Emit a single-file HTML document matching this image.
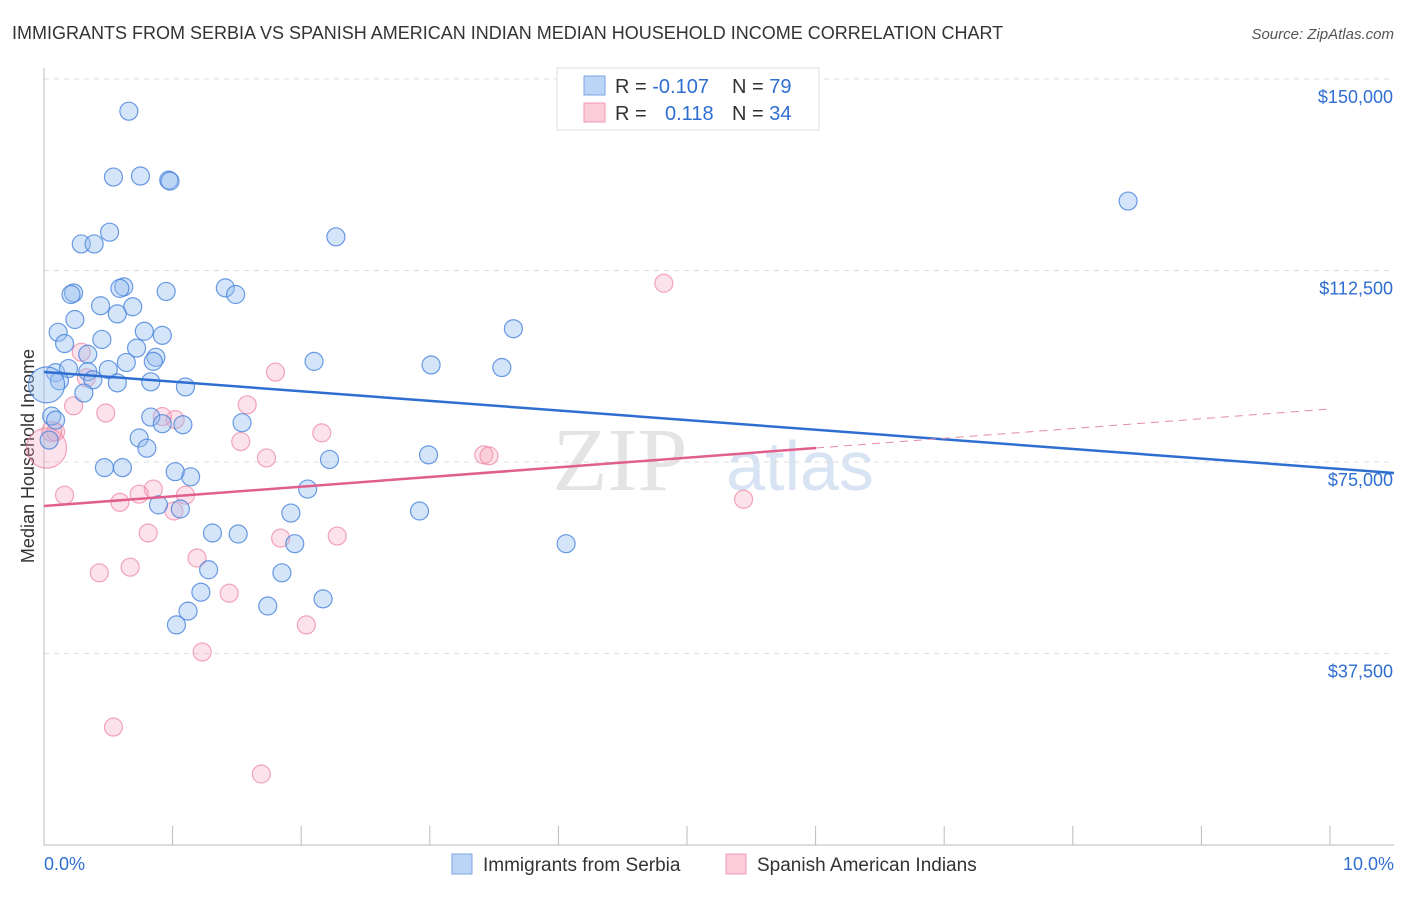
<!DOCTYPE html>
<html><head><meta charset="utf-8"><style>
body{margin:0;background:#fff;font-family:"Liberation Sans",sans-serif}
</style></head><body>
<svg id="c" width="1406" height="892" xmlns="http://www.w3.org/2000/svg" style="font-family:'Liberation Sans',sans-serif">
<text x="12" y="39" font-size="18" fill="#333">IMMIGRANTS FROM SERBIA VS SPANISH AMERICAN INDIAN MEDIAN HOUSEHOLD INCOME CORRELATION CHART</text>
<text x="1394" y="39" font-size="15" fill="#555" font-style="italic" text-anchor="end">Source: ZipAtlas.com</text>
<text x="34" y="456" font-size="18" fill="#333" text-anchor="middle" transform="rotate(-90 34 456)">Median Household Income</text>
<text x="620" y="490" font-size="90" fill="#e4e4e4" font-family="Liberation Serif" text-anchor="middle">ZIP</text>
<text x="800" y="490" font-size="70" fill="#d8e4f4" text-anchor="middle">atlas</text>
<g id="grid"></g><g id="pts"></g><g id="lines"></g>
<g>
<rect x="557" y="68" width="262" height="62" fill="#fff" stroke="#ddd"/>
<rect x="584" y="76" width="21" height="19" fill="#bcd4f5" stroke="#7ba6e6"/>
<rect x="584" y="103" width="21" height="19" fill="#fbccd9" stroke="#f09ab3"/>
<text x="615" y="93" font-size="20" fill="#333">R = <tspan fill="#2f6ed1">-0.107</tspan></text>
<text x="732" y="93" font-size="20" fill="#333">N = <tspan fill="#2f6ed1">79</tspan></text>
<text x="615" y="120" font-size="20" fill="#333">R = </text>
<text x="665" y="120" font-size="20" fill="#2f6ed1">0.118</text>
<text x="732" y="120" font-size="20" fill="#333">N = <tspan fill="#2f6ed1">34</tspan></text>
</g>
<g>
<rect x="452" y="854" width="20" height="20" fill="#bcd4f5" stroke="#7ba6e6"/>
<text x="483" y="871" font-size="19" fill="#333">Immigrants from Serbia</text>
<rect x="726" y="854" width="20" height="20" fill="#fbccd9" stroke="#f09ab3"/>
<text x="757" y="871" font-size="19" fill="#333">Spanish American Indians</text>
</g>
<text x="44" y="870" font-size="18" fill="#2f6ed1">0.0%</text>
<text x="1394" y="870" font-size="18" fill="#2f6ed1" text-anchor="end">10.0%</text>
</svg>
<script>
const yTicks=[37500,75000,112500,150000];
const yTickLabels=["$37,500","$75,000","$112,500","$150,000"];
const xTicks=[0,1,2,3,4,5,6,7,8,9,10];
const serbiaX=[0.66,0.54,0.75,0.97,0.98,0.51,0.29,0.39,2.27,8.43,1.41,0.62,0.23,0.59,0.95,1.49,0.21,0.44,0.69,0.57,0.24,0.11,0.78,0.92,3.65,0.16,0.45,0.72,0.34,0.87,0.85,0.64,2.10,3.01,3.56,0.09,0.19,0.50,0.34,0.12,0.38,0.57,0.83,1.10,0.31,0.83,0.06,1.54,0.92,1.08,0.09,0.04,0.74,0.80,2.22,2.99,1.14,0.47,0.61,1.02,2.05,0.89,1.06,1.92,2.92,1.31,1.51,1.95,4.06,1.28,1.85,1.22,1.12,1.74,2.17,1.03,0.02];
const serbiaY=[143.7,130.8,131.0,130.2,130.0,120.0,117.7,117.7,119.1,126.1,109.1,109.3,108.1,109.0,108.4,107.8,107.8,105.6,105.4,104.0,102.9,100.4,100.6,99.8,101.1,98.2,99.0,97.3,96.1,95.5,94.7,94.5,94.7,94.0,93.5,92.5,93.3,93.1,92.7,90.9,91.1,90.5,90.7,89.7,88.5,83.8,84.0,82.7,82.5,82.3,83.2,79.3,79.7,77.7,75.5,76.4,72.1,73.9,73.9,73.1,69.7,66.6,65.8,65.0,65.4,61.1,60.9,59.0,59.0,53.9,53.3,49.5,45.8,46.8,48.2,43.1,90.1];
const serbiaR=[9,9,9,9,9,9,9,9,9,9,9,9,9,9,9,9,9,9,9,9,9,9,9,9,9,9,9,9,9,9,9,9,9,9,9,9,9,9,9,9,9,9,9,9,9,9,9,9,9,9,9,9,9,9,9,9,9,9,9,9,9,9,9,9,9,9,9,9,9,9,9,9,9,9,9,9,18];
const spanX=[4.82,0.29,1.80,0.33,1.58,0.48,0.23,1.02,0.92,0.09,2.16,1.53,1.73,3.42,3.46,0.85,0.74,0.16,1.10,0.59,1.01,5.44,0.81,1.84,2.28,1.19,0.67,0.43,1.44,2.04,1.23,0.54,1.69,0.02,0.06];
const spanY=[110.0,96.5,92.6,91.5,86.2,84.6,86.0,83.3,83.9,80.9,80.7,79.0,75.8,76.4,76.2,69.7,68.7,68.5,68.5,67.1,65.4,67.7,61.1,60.1,60.5,56.2,54.4,53.3,49.3,43.1,37.8,23.1,13.9,77.7,81.0];
const spanR=[9,9,9,9,9,9,9,9,9,9,9,9,9,9,9,9,9,9,9,9,9,9,9,9,9,9,9,9,9,9,9,9,9,20,10];
const xs=v=>44+v*128.6, ys=v=>845-v/37500*191.5*1000/1000;
const yv=k=>845-k*1000/37500*191.5;
const NS="http://www.w3.org/2000/svg";
function mk(t,a,p){const e=document.createElementNS(NS,t);for(const k in a)e.setAttribute(k,a[k]);p.appendChild(e);return e;}
const g=document.getElementById('grid');
yTicks.forEach((t,i)=>{const y=845-t/37500*191.5;
const l=mk('line',{x1:44,x2:1394,y1:y,y2:y,stroke:'#ddd','stroke-dasharray':'5,5'},g);


const tx=mk('text',{x:1393,y:y+24,'font-size':18,fill:'#2f6ed1','text-anchor':'end'},g);tx.textContent=yTickLabels[i];

});
const ax=mk('line',{x1:44,x2:44,y1:68,y2:845,stroke:'#bbb'},g);


const bx=mk('line',{x1:44,x2:1394,y1:845,y2:845,stroke:'#bbb'},g);


xTicks.forEach(t=>{const l=mk('line',{x1:xs(t),x2:xs(t),y1:826,y2:845,stroke:'#bbb'},g);

});
const p=document.getElementById('pts');
spanX.forEach((x,i)=>{const c=mk('circle',{cx:xs(x),cy:yv(spanY[i]),r:spanR[i],fill:'rgba(246,160,185,0.3)',stroke:'rgba(236,130,160,0.7)','stroke-width':1.2},p);

});
serbiaX.forEach((x,i)=>{const c=mk('circle',{cx:xs(x),cy:yv(serbiaY[i]),r:serbiaR[i],fill:'rgba(150,190,240,0.4)',stroke:'rgba(70,130,220,0.8)','stroke-width':1.2},p);

});
const L=document.getElementById('lines');
const b=mk('line',{x1:44,y1:372,x2:1394,y2:473,stroke:'#2f6ed1','stroke-width':2.5},L);


const pk=mk('line',{x1:44,y1:506,x2:816,y2:448,stroke:'#e05f8c','stroke-width':2.5},L);


const pd=mk('line',{x1:816,y1:448,x2:1330,y2:409,stroke:'#e88aa8','stroke-width':1,'stroke-dasharray':'8,6'},L);


</script>
</body></html>
